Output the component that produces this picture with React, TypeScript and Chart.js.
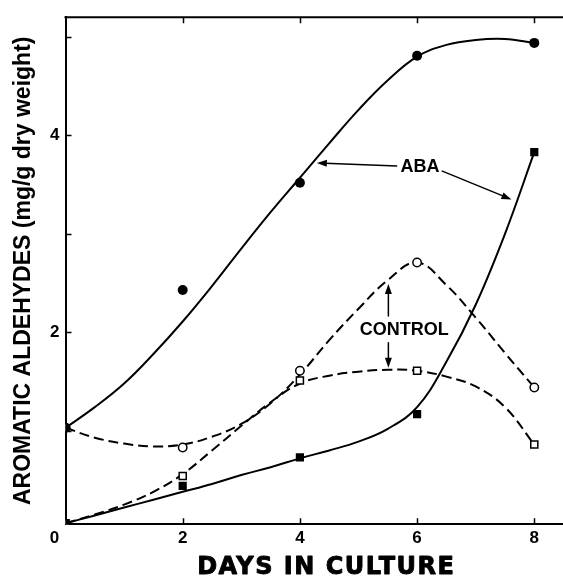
import React, { useEffect, useRef } from 'react';
import { Chart, registerables } from 'chart.js';

Chart.register(...registerables);

// ---- data ----
const days = [0, 2, 4, 6, 8];
const abaFilledCircles = [1.03, 2.43, 3.52, 4.81, 4.94];
const abaFilledSquares = [0.06, 0.44, 0.73, 1.17, 3.83];
const controlOpenCircles = [1.03, 0.83, 1.61, 2.71, 1.44];
const controlOpenSquares = [0.06, 0.54, 1.51, 1.61, 0.86];

// hand-drawn fitted curves, sampled from the figure
const curveDays = [0, 0.5, 1, 1.5, 2, 2.5, 3, 3.5, 4, 4.5, 5, 5.5, 6, 6.5, 7, 7.5, 8];
const abaCircleCurve = [1.03, 1.24, 1.48, 1.78, 2.11, 2.47, 2.85, 3.22, 3.57, 3.92, 4.26, 4.56, 4.8, 4.92, 4.97, 4.98, 4.94];
const abaSquareCurve = [0.06, 0.14, 0.22, 0.3, 0.38, 0.46, 0.55, 0.63, 0.72, 0.8, 0.89, 1.02, 1.24, 1.7, 2.28, 3.0, 3.83];
const controlCircleCurve = [1.03, 0.93, 0.87, 0.84, 0.86, 0.94, 1.07, 1.28, 1.57, 1.92, 2.24, 2.53, 2.71, 2.48, 2.15, 1.79, 1.44];
const controlSquareCurve = [0.06, 0.15, 0.25, 0.38, 0.56, 0.8, 1.05, 1.29, 1.48, 1.56, 1.6, 1.62, 1.61, 1.55, 1.45, 1.24, 0.86];

const xTickValues = [0, 2, 4, 6, 8];
const xTickLabels = ['0', '2', '4', '6', '8'];
const yTickValues = [1, 2, 3, 4, 5];
const yTickLabels = ['', '2', '', '4', ''];

const xTitle = 'DAYS IN CULTURE';
const yTitle = 'AROMATIC ALDEHYDES (mg/g dry weight)';

// annotations (data coordinates)
const abaLabel = { x: 6.05, y: 3.68, text: 'ABA' };
const abaArrows = [
  { x1: 5.66, y1: 3.69, x2: 4.29, y2: 3.72 },
  { x1: 6.42, y1: 3.64, x2: 7.61, y2: 3.35 },
];
const controlLabel = { x: 5.78, y: 2.02, text: 'CONTROL' };
const controlArrows = [
  { x1: 5.51, y1: 2.16, x2: 5.51, y2: 2.49 },
  { x1: 5.51, y1: 1.9, x2: 5.51, y2: 1.64 },
];

const FONT = '"Liberation Sans", Arial, Helvetica, sans-serif';

export default function App() {
  const ref = useRef<HTMLCanvasElement | null>(null);

  useEffect(() => {
    const canvas = ref.current;
    if (!canvas) return;
    const pts = (ys: number[], xs: number[] = days) => xs.map((x, i) => ({ x, y: ys[i] }));

    const overlay = {
      id: 'overlay',
      afterDatasetsDraw(chart: any) {
        const { ctx, chartArea: a, scales } = chart;
        const xs = scales.x;
        const ys = scales.y;
        const X = (v: number) => xs.getPixelForValue(v);
        const Y = (v: number) => ys.getPixelForValue(v);
        ctx.save();
        ctx.strokeStyle = '#000';
        ctx.fillStyle = '#000';
        // top frame line
        ctx.lineWidth = 2;
        ctx.beginPath();
        ctx.moveTo(a.left - 1, a.top);
        ctx.lineTo(a.right, a.top);
        ctx.stroke();
        // inward ticks
        ctx.lineWidth = 1.5;
        ctx.beginPath();
        xTickValues.forEach((v) => {
          if (v === xs.min) return;
          const px = Math.round(X(v)) + 0.5;
          ctx.moveTo(px, a.bottom);
          ctx.lineTo(px, a.bottom - 6);
          ctx.moveTo(px, a.top);
          ctx.lineTo(px, a.top + 6);
        });
        yTickValues.forEach((v) => {
          const py = Math.round(Y(v)) + 0.5;
          ctx.moveTo(a.left, py);
          ctx.lineTo(a.left + 6, py);
        });
        ctx.stroke();

        // corner "0" label
        ctx.font = `bold 17px ${FONT}`;
        ctx.textAlign = 'center';
        ctx.textBaseline = 'middle';
        ctx.fillText(xTickLabels[0], X(0) - 11, a.bottom + 4 + 10.2);

        // x title (heavy, wide lettering)
        ctx.font = `bold 24px "DejaVu Sans", ${FONT}`;
        ctx.textBaseline = 'middle';
        try { (ctx as any).letterSpacing = '1.5px'; } catch (e) {}
        ctx.lineWidth = 0.9;
        ctx.lineJoin = 'round';
        const tx = (a.left + a.right) / 2 + 12;
        ctx.fillText(xTitle, tx, 568);
        ctx.strokeText(xTitle, tx, 568);
        try { (ctx as any).letterSpacing = '0px'; } catch (e) {}

        // annotations
        const arrow = (x1: number, y1: number, x2: number, y2: number) => {
          const p1x = X(x1), p1y = Y(y1), p2x = X(x2), p2y = Y(y2);
          const ang = Math.atan2(p2y - p1y, p2x - p1x);
          const hl = 10, hw = 3.5;
          ctx.lineWidth = 1.5;
          ctx.beginPath();
          ctx.moveTo(p1x, p1y);
          ctx.lineTo(p2x - Math.cos(ang) * hl * 0.8, p2y - Math.sin(ang) * hl * 0.8);
          ctx.stroke();
          ctx.beginPath();
          ctx.moveTo(p2x, p2y);
          ctx.lineTo(p2x - Math.cos(ang) * hl - Math.sin(ang) * hw, p2y - Math.sin(ang) * hl + Math.cos(ang) * hw);
          ctx.lineTo(p2x - Math.cos(ang) * hl + Math.sin(ang) * hw, p2y - Math.sin(ang) * hl - Math.cos(ang) * hw);
          ctx.closePath();
          ctx.fill();
        };
        abaArrows.forEach((r) => arrow(r.x1, r.y1, r.x2, r.y2));
        controlArrows.forEach((r) => arrow(r.x1, r.y1, r.x2, r.y2));
        ctx.font = `bold 18px ${FONT}`;
        ctx.textAlign = 'center';
        ctx.textBaseline = 'middle';
        ctx.fillText(abaLabel.text, X(abaLabel.x), Y(abaLabel.y));
        ctx.fillText(controlLabel.text, X(controlLabel.x), Y(controlLabel.y));
        ctx.restore();
      },
    };

    const curve = (data: number[], dashed: boolean, label: string) => ({
      label,
      data: pts(data, curveDays),
      showLine: true,
      pointRadius: 0,
      borderColor: '#000',
      borderWidth: 2,
      borderDash: dashed ? [10, 5] : [],
      tension: 0.4,
      fill: false,
      order: 3,
    });

    const chart = new Chart(canvas, {
      type: 'scatter',
      data: {
        datasets: [
          {
            label: 'ABA (circles)',
            data: pts(abaFilledCircles),
            pointStyle: 'circle',
            pointRadius: 5,
            backgroundColor: '#000',
            borderColor: '#000',
            borderWidth: 0,
            order: 1,
          },
          {
            label: 'ABA (squares)',
            data: pts(abaFilledSquares),
            pointStyle: 'rect',
            pointRadius: 5.8,
            backgroundColor: '#000',
            borderColor: '#000',
            borderWidth: 0,
            order: 1,
          },
          {
            label: 'Control (circles)',
            data: pts(controlOpenCircles),
            pointStyle: 'circle',
            pointRadius: 4.2,
            backgroundColor: '#fff',
            borderColor: '#000',
            borderWidth: 1.5,
            order: 2,
          },
          {
            label: 'Control (squares)',
            data: pts(controlOpenSquares),
            pointStyle: 'rect',
            pointRadius: 5,
            backgroundColor: '#fff',
            borderColor: '#000',
            borderWidth: 1.5,
            order: 2,
          },
          curve(abaCircleCurve, false, 'ABA curve (circles)'),
          curve(abaSquareCurve, false, 'ABA curve (squares)'),
          curve(controlCircleCurve, true, 'Control curve (circles)'),
          curve(controlSquareCurve, true, 'Control curve (squares)'),
        ] as any,
      },
      options: {
        animation: false,
        responsive: false,
        devicePixelRatio: 1,
        events: [],
        layout: { padding: { top: 17.3, right: 0, bottom: 0, left: 0 }, autoPadding: false },
        plugins: { legend: { display: false }, tooltip: { enabled: false } },
        scales: {
          x: {
            type: 'linear',
            min: 0,
            max: 8.49,
            afterBuildTicks: (s: any) => {
              s.ticks = xTickValues.map((v) => ({ value: v }));
            },
            afterFit: (s: any) => {
              s.height = 56.7;
            },
            ticks: {
              autoSkip: false,
              maxRotation: 0,
              padding: 4,
              color: '#000',
              font: { family: FONT, size: 17, weight: 'bold' },
              callback: (v: any) => {
                const i = xTickValues.indexOf(Number(v));
                return i <= 0 ? '' : xTickLabels[i];
              },
            },
            grid: { display: false, drawTicks: false },
            border: { display: true, color: '#000', width: 2 },
          },
          y: {
            type: 'linear',
            min: 0.05,
            max: 5.2,
            afterBuildTicks: (s: any) => {
              s.ticks = yTickValues.map((v) => ({ value: v }));
            },
            afterFit: (s: any) => {
              s.width = 65.5;
            },
            ticks: {
              autoSkip: false,
              padding: 6,
              color: '#000',
              font: { family: FONT, size: 17, weight: 'bold' },
              callback: (v: any) => {
                const i = yTickValues.indexOf(Number(v));
                return i < 0 ? '' : yTickLabels[i];
              },
            },
            title: {
              display: true,
              text: yTitle,
              color: '#000',
              font: { family: FONT, size: 23, weight: 'bold' },
              padding: { top: 10, bottom: 0 },
            },
            grid: { display: false, drawTicks: false },
            border: { display: true, color: '#000', width: 2 },
          },
        },
      } as any,
      plugins: [overlay],
    });
    return () => chart.destroy();
  }, []);

  return (
    <div style={{ position: 'absolute', left: 0, top: 0, width: 563, height: 581, background: '#fff' }}>
      <canvas ref={ref} width={563} height={581} style={{ display: 'block' }} />
    </div>
  );
}
